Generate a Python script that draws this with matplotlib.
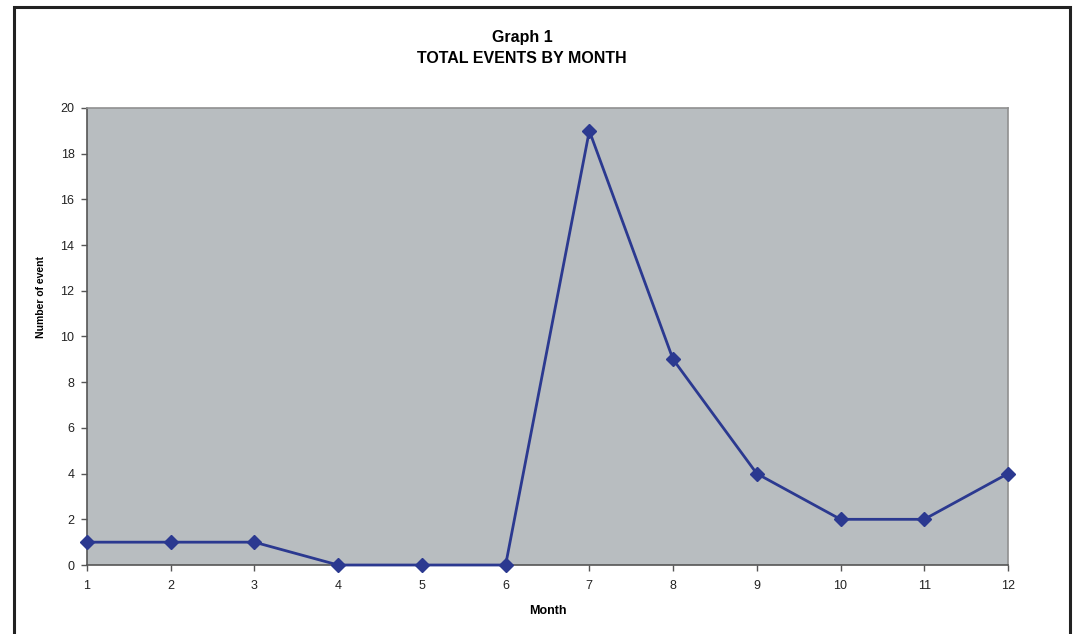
import matplotlib.pyplot as plt
from matplotlib.patches import Rectangle

months = [1, 2, 3, 4, 5, 6, 7, 8, 9, 10, 11, 12]
events = [1, 1, 1, 0, 0, 0, 19, 9, 4, 2, 2, 4]

plt.rcParams['font.family'] = ['Liberation Sans', 'DejaVu Sans']

fig = plt.figure(figsize=(10.74, 6.34), dpi=100)
ax = fig.add_axes([0.081, 0.1088, 0.8575, 0.7209])

# outer chart frame (open at the bottom, like the cropped original)
fig.patches.append(Rectangle((0.013, -0.05), 0.983, 1.039, transform=fig.transFigure,
                             fill=False, edgecolor='#222222', linewidth=2.2))

ax.set_facecolor('#b8bdc0')
ax.plot(months, events, color='#2b3990', linewidth=2.0, marker='D', markersize=7,
        markerfacecolor='#2b3990', markeredgecolor='#2b3990', clip_on=False, zorder=3)

ax.set_xlim(1, 12)
ax.set_ylim(0, 20)
ax.set_xticks(months)
ax.set_yticks(range(0, 21, 2))
ax.tick_params(axis='both', labelsize=9, color='#555555', length=4, width=1,
               labelcolor='#222222')
ax.tick_params(axis='y', pad=5)
ax.tick_params(axis='x', pad=7)

for side in ['left', 'bottom']:
    ax.spines[side].set_color('#555555')
    ax.spines[side].set_linewidth(1.2)
for side in ['top', 'right']:
    ax.spines[side].set_color('#909090')
    ax.spines[side].set_linewidth(1.2)

ax.set_xlabel('Month', fontsize=9, fontweight='bold', labelpad=9)
fig.text(0.038, 0.531, 'Number of event', rotation=90, ha='center', va='center',
         fontsize=7.5, fontweight='bold')

fig.text(0.486, 0.941, 'Graph 1', ha='center', va='center', fontsize=11.5, fontweight='bold')
fig.text(0.486, 0.907, 'TOTAL EVENTS BY MONTH', ha='center', va='center', fontsize=11.5,
         fontweight='bold')

fig.savefig('out.png', dpi=100)
